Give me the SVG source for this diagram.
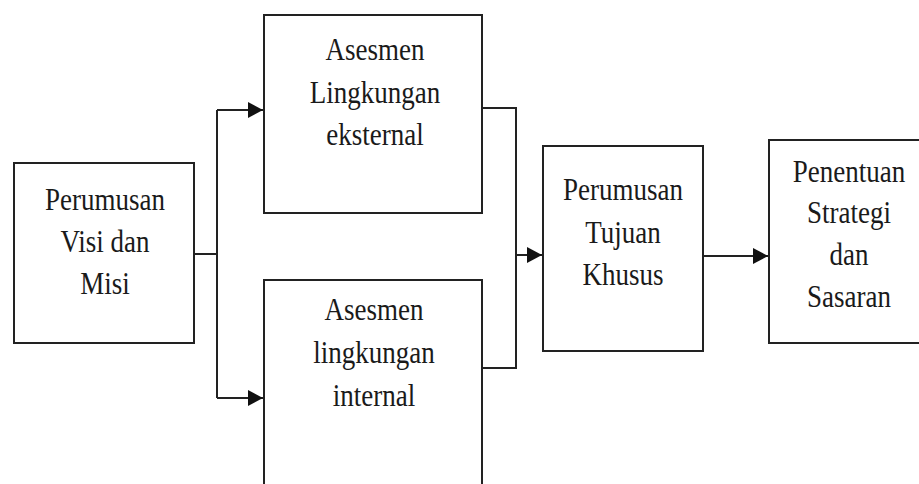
<svg xmlns="http://www.w3.org/2000/svg" width="919" height="484" viewBox="0 0 919 484">
<defs>
<style>
.box{fill:#fff;stroke:#222;stroke-width:2}
.ln{fill:none;stroke:#222;stroke-width:2}
</style>
<marker id="ah" markerUnits="userSpaceOnUse" markerWidth="18" markerHeight="18" viewBox="0 0 18 18" refX="16" refY="9" orient="auto">
<path d="M1,1 L16,9 L1,17 Z" fill="#111"/>
</marker>
</defs>
<rect width="919" height="484" fill="#fff"/>
<g id="connectors">
<path class="ln" d="M194,254 H217"/>
<path class="ln" d="M217,110 V398"/>
<path class="ln" d="M217,110 H263" marker-end="url(#ah)"/>
<path class="ln" d="M217,398 H263" marker-end="url(#ah)"/>
<path class="ln" d="M482,108 H516 V368 H482"/>
<path class="ln" d="M516,255 H542" marker-end="url(#ah)"/>
<path class="ln" d="M703,256 H768" stroke-width="3" marker-end="url(#ah)"/>
</g>
<g id="visi" font-family="Liberation Serif" font-size="27" fill="#1a1a1a" text-anchor="middle">
<rect class="box" x="14" y="163" width="180" height="180"/>
<text transform="translate(105,210) scale(1,1.2)"><tspan x="0" y="0">Perumusan</tspan><tspan x="0" y="35">Visi dan</tspan><tspan x="0" y="70">Misi</tspan></text>
</g>
<g id="eksternal" font-family="Liberation Serif" font-size="27" fill="#1a1a1a" text-anchor="middle">
<rect class="box" x="264" y="15" width="218" height="198"/>
<text transform="translate(375,60) scale(1,1.2)"><tspan x="0" y="0">Asesmen</tspan><tspan x="0" y="35.5">Lingkungan</tspan><tspan x="0" y="71">eksternal</tspan></text>
</g>
<g id="internal" font-family="Liberation Serif" font-size="27" fill="#1a1a1a" text-anchor="middle">
<rect class="box" x="264" y="280" width="218" height="220"/>
<text transform="translate(374,320) scale(1,1.2)"><tspan x="0" y="0">Asesmen</tspan><tspan x="0" y="35.5">lingkungan</tspan><tspan x="0" y="72">internal</tspan></text>
</g>
<g id="tujuan" font-family="Liberation Serif" font-size="27" fill="#1a1a1a" text-anchor="middle">
<rect class="box" x="543" y="146" width="160" height="205"/>
<text transform="translate(623,200) scale(1,1.2)"><tspan x="0" y="0">Perumusan</tspan><tspan x="0" y="36">Tujuan</tspan><tspan x="0" y="71">Khusus</tspan></text>
</g>
<g id="strategi" font-family="Liberation Serif" font-size="27" fill="#1a1a1a" text-anchor="middle">
<rect class="box" x="769" y="140" width="170" height="203"/>
<text transform="translate(849,182) scale(1,1.2)"><tspan x="0" y="0">Penentuan</tspan><tspan x="0" y="34.5">Strategi</tspan><tspan x="0" y="69.5">dan</tspan><tspan x="0" y="104.5">Sasaran</tspan></text>
</g>
</svg>
